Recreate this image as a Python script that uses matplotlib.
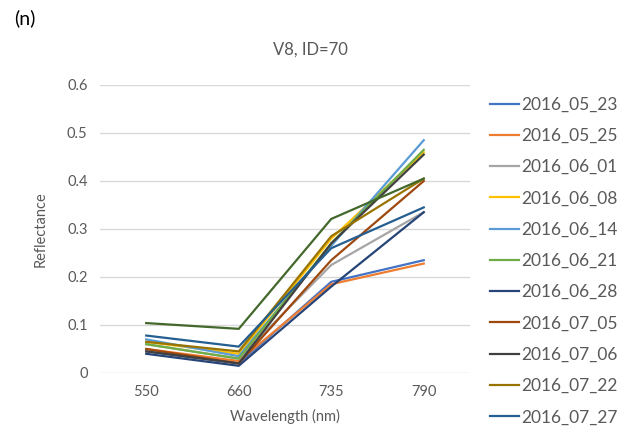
import matplotlib
matplotlib.use("Agg")
import matplotlib.pyplot as plt

plt.rcParams['font.family'] = ['Lato', 'DejaVu Sans']

wavelengths = ["550", "660", "735", "790"]
# only the first 11 dates appear in the legend; the top (dark green) series has no visible entry
dates = ["2016_05_23", "2016_05_25", "2016_06_01", "2016_06_08", "2016_06_14",
         "2016_06_21", "2016_06_28", "2016_07_05", "2016_07_06", "2016_07_22",
         "2016_07_27", "_nolegend_"]

r_0523 = [0.045, 0.020, 0.190, 0.235]
r_0525 = [0.050, 0.025, 0.185, 0.228]
r_0601 = [0.060, 0.030, 0.225, 0.335]
r_0608 = [0.065, 0.040, 0.280, 0.460]
r_0614 = [0.070, 0.035, 0.265, 0.485]
r_0621 = [0.060, 0.030, 0.270, 0.465]
r_0628 = [0.040, 0.015, 0.180, 0.335]
r_0705 = [0.050, 0.020, 0.235, 0.400]
r_0706 = [0.045, 0.020, 0.270, 0.455]
r_0722 = [0.065, 0.045, 0.285, 0.405]
r_0727 = [0.078, 0.055, 0.260, 0.345]
r_extra = [0.104, 0.092, 0.321, 0.405]

series = [r_0523, r_0525, r_0601, r_0608, r_0614, r_0621,
          r_0628, r_0705, r_0706, r_0722, r_0727, r_extra]
colors = ["#4472C4", "#ED7D31", "#A5A5A5", "#FFC000", "#5B9BD5", "#70AD47",
          "#264478", "#9E480E", "#404040", "#997300", "#255E91", "#43682B"]

fig = plt.figure(figsize=(6.3, 4.41), dpi=100)
ax = fig.add_axes([100 / 630, 68 / 441, 370 / 630, 288 / 441])

x = range(len(wavelengths))
for vals, col, lab in zip(series, colors, dates):
    ax.plot(x, vals, color=col, linewidth=1.6, label=lab)

ax.set_xlim(-0.5, 3.5)
ax.set_ylim(0, 0.6)
ax.set_xticks(list(x))
ax.set_xticklabels(wavelengths)
ax.set_yticks([0, 0.1, 0.2, 0.3, 0.4, 0.5, 0.6])
ax.set_yticklabels(["0", "0.1", "0.2", "0.3", "0.4", "0.5", "0.6"])
ax.grid(axis="y", color="#D9D9D9", linewidth=1)
ax.set_axisbelow(True)
for s in ax.spines.values():
    s.set_visible(False)
ax.tick_params(length=0, labelsize=10.5, colors="#595959", pad=9)
ax.set_xlabel("Wavelength (nm)", fontsize=10.5, color="#595959", labelpad=7)
ax.set_ylabel("Reflectance", fontsize=10.5, color="#595959", labelpad=14)

fig.text(310 / 630, 1 - 50 / 441, "V8, ID=70", ha="center", va="center",
         fontsize=12, color="#595959")
fig.text(14 / 630, 1 - 18 / 441, "(n)", ha="left", va="center",
         fontsize=14, color="black")

fig.legend(loc="upper left", bbox_to_anchor=(474 / 630, 1 - 81 / 441),
           frameon=False, fontsize=12.5, handlelength=1.7, handletextpad=0.1,
           labelspacing=0.88, labelcolor="#595959")

fig.savefig("out.png", dpi=100)
